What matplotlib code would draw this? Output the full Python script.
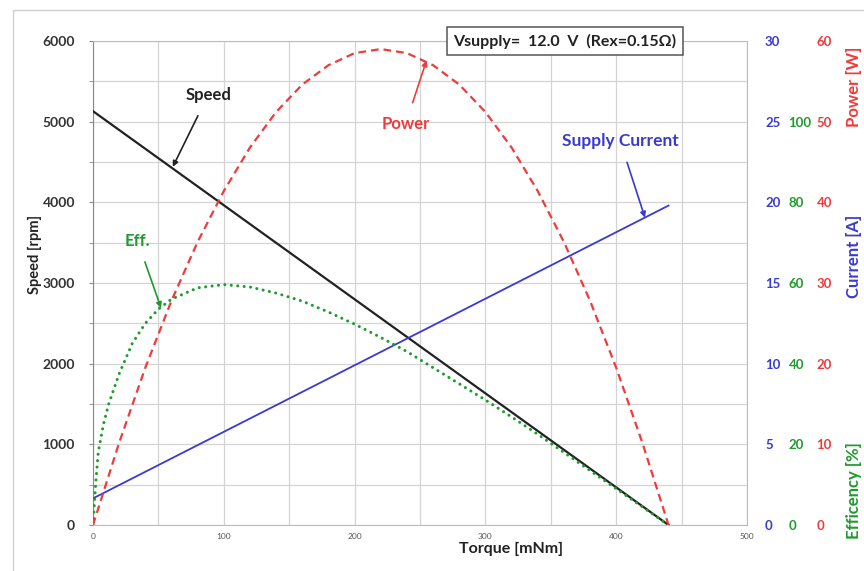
import matplotlib
matplotlib.use("Agg")
import matplotlib.pyplot as plt
from matplotlib.patches import Rectangle
from matplotlib.ticker import MultipleLocator

plt.rcParams['font.family'] = ['Lato', 'DejaVu Sans']

# ---- data ----
speed_torque = [0, 440]            # mNm
speed_rpm = [5130, 0]              # rpm

current_torque = [0, 440]
current_a = [1.65, 19.8]           # A

power_torque = [0, 20, 40, 60, 80, 100, 120, 140, 160, 180, 200, 220,
                240, 260, 280, 300, 320, 340, 360, 380, 400, 420, 440]
power_w = [0, 10.2, 19.5, 27.8, 35.1, 41.4, 46.8, 51.2, 54.6, 57.0, 58.5, 59.0,
           58.5, 57.0, 54.6, 51.2, 46.8, 41.4, 35.1, 27.8, 19.5, 10.2, 0]

eff_torque = [0, 2, 4, 8, 12, 20, 30, 40, 50, 60, 80, 100, 120, 140, 160, 180,
              200, 220, 240, 260, 280, 300, 320, 340, 360, 380, 400, 420, 440]
eff_pct = [0, 10, 18, 25, 30, 37.5, 45, 50, 53.5, 56, 58.8, 59.6, 59, 57.5, 55.5,
           52.8, 49.8, 46.5, 43, 39, 35, 31, 26.8, 22.5, 18, 13.5, 9, 4.5, 0]

x_ticks = [0, 100, 200, 300, 400, 500]
speed_ticks = [0, 1000, 2000, 3000, 4000, 5000, 6000]
current_ticks = [0, 5, 10, 15, 20, 25, 30]
eff_ticks = [0, 20, 40, 60, 80, 100]
power_ticks = [0, 10, 20, 30, 40, 50, 60]

BLACK = '#222222'
BLUE = '#3a3ad0'
RED = '#ee3b3b'
GREEN = '#1f9a2e'

fig = plt.figure(figsize=(8.64, 5.71), dpi=100)
fig.patches.append(Rectangle((13/864, -0.01), 1.0, 1 - 10/571 + 0.01,
                             transform=fig.transFigure, fill=False,
                             edgecolor='#cfcfcf', lw=1.0))

ax = fig.add_axes([93/864, 1 - 525/571, (747 - 93)/864, (525 - 41)/571])
ax.set_xlim(0, 500)
ax.set_ylim(0, 6000)
ax.set_xticks(x_ticks)
ax.set_yticks(speed_ticks)
ax.xaxis.set_minor_locator(MultipleLocator(50))
ax.yaxis.set_minor_locator(MultipleLocator(500))
ax.grid(True, which='both', color='#d4d4d4', lw=0.9)
ax.set_axisbelow(True)
for s in ax.spines.values():
    s.set_color('#bdbdbd')
ax.spines['left'].set_color('#888888')
ax.tick_params(axis='x', which='both', length=0, labelsize=6, labelcolor='#555555', pad=6)
ax.tick_params(axis='y', which='major', length=3, color='#888888', labelsize=10,
               labelcolor='#333333', pad=10)
ax.tick_params(axis='y', which='minor', length=3, color='#888888')
for lab in ax.get_yticklabels():
    lab.set_fontweight('bold')

ax.set_xlabel('Torque [mNm]', fontsize=11.5, fontweight='bold', color='#222222')
ax.xaxis.set_label_coords(0.64, -0.035)
ax.set_ylabel('Speed [rpm]', fontsize=10.5, fontweight='bold', color='#222222')
ax.yaxis.set_label_coords(-0.078, 0.56)

ax.plot(speed_torque, speed_rpm, color=BLACK, lw=1.6, zorder=5)

# twin axes
ax_c = ax.twinx()
ax_e = ax.twinx()
ax_p = ax.twinx()
for a, lim, ticks, col, pad in [(ax_c, 30, current_ticks, BLUE, 13),
                                (ax_e, 120, eff_ticks, GREEN, 30),
                                (ax_p, 60, power_ticks, RED, 50)]:
    a.set_ylim(0, lim)
    a.set_yticks(ticks)
    a.tick_params(axis='y', length=0, labelsize=9.5, labelcolor=col, pad=pad)
    for s in a.spines.values():
        s.set_visible(False)
    for lab in a.get_yticklabels():
        lab.set_fontweight('bold')

ax_c.plot(current_torque, current_a, color=BLUE, lw=1.3)
ax_p.plot(power_torque, power_w, color=RED, lw=1.6, ls=(0, (3.5, 2.2)))
ax_e.plot(eff_torque, eff_pct, color=GREEN, lw=2.2, ls=(0, (0.01, 2.1)),
          dash_capstyle='round')

# axis labels on right side
ax_p.set_ylabel('Power [W]', fontsize=12, fontweight='bold', color=RED)
ax_p.yaxis.set_label_coords(1.152, 0.905)
ax_c.set_ylabel('Current [A]', fontsize=12, fontweight='bold', color=BLUE)
ax_c.yaxis.set_label_coords(1.152, 0.555)
ax_e.set_ylabel('Efficency [%]', fontsize=12, fontweight='bold', color=GREEN)
ax_e.yaxis.set_label_coords(1.152, 0.072)

# annotations
arrow_kw = dict(arrowstyle='-|>', lw=1.2, mutation_scale=8, shrinkA=8, shrinkB=0)
ax.annotate('Speed', xy=(61, 4440), xytext=(88, 5330), fontsize=12,
            fontweight='bold', color=BLACK, ha='center', va='center',
            arrowprops=dict(color=BLACK, **arrow_kw))
ax_p.annotate('Power', xy=(255, 57.6), xytext=(239, 49.7), fontsize=12,
              fontweight='bold', color=RED, ha='center', va='center',
              arrowprops=dict(color=RED, **arrow_kw))
ax_c.annotate('Supply Current', xy=(422, 19.05), xytext=(403, 23.8), fontsize=12.5,
              fontweight='bold', color=BLUE, ha='center', va='center',
              arrowprops=dict(color=BLUE, **arrow_kw))
ax_e.annotate('Eff.', xy=(52, 53.8), xytext=(34, 70.5), fontsize=12,
              fontweight='bold', color=GREEN, ha='center', va='center',
              arrowprops=dict(color=GREEN, **arrow_kw))

fig.text(565/864, 1 - 41/571, 'Vsupply=  12.0  V  (Rex=0.15\u03a9)',
         fontsize=11.5, fontweight='bold', color='#222222', ha='center', va='center',
         bbox=dict(boxstyle='square,pad=0.4', fc='white', ec='#555555', lw=1.1))

fig.savefig('out.png', dpi=100)
